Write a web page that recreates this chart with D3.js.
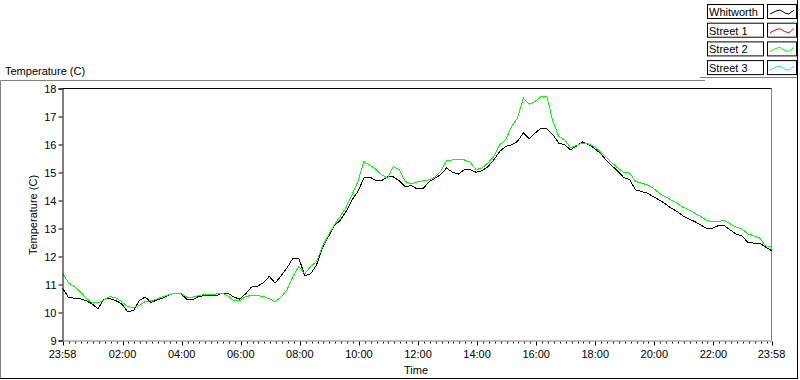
<!DOCTYPE html>
<html>
<head>
<meta charset="utf-8">
<script src="https://cdn.jsdelivr.net/npm/d3@7"></script>
<style>
  body { margin: 0; background: #fff; }
  svg { display: block; font-family: "Liberation Sans", Arial, sans-serif; font-size: 11px; }
</style>
</head>
<body>
<svg id="chart" width="800" height="380"></svg>
<script>
// samples every 12 minutes, starting at 23:58
const startTime = new Date(2010, 0, 1, 23, 58);
const stepMinutes = 12;

const whitworth = [
  10.87, 10.54, 10.51, 10.49, 10.42, 10.31, 10.13, 10.48, 10.49, 10.43,
  10.31, 10.04, 10.06, 10.43, 10.55, 10.36, 10.45, 10.52, 10.63, 10.69,
  10.69, 10.48, 10.45, 10.57, 10.60, 10.60, 10.60, 10.69, 10.69, 10.55,
  10.48, 10.67, 10.91, 10.93, 11.07, 11.29, 11.05, 11.31, 11.59, 11.94,
  11.94, 11.32, 11.38, 11.70, 12.30, 12.71, 13.10, 13.29, 13.61, 14.02,
  14.32, 14.80, 14.84, 14.71, 14.71, 14.84, 14.84, 14.70, 14.50, 14.53,
  14.42, 14.42, 14.66, 14.80, 14.92, 15.16, 15.01, 14.94, 15.10, 15.10,
  15.01, 15.06, 15.21, 15.45, 15.75, 15.93, 15.99, 16.11, 16.41, 16.20,
  16.41, 16.59, 16.56, 16.35, 16.05, 15.99, 15.81, 15.95, 16.09, 16.00,
  15.87, 15.69, 15.45, 15.24, 15.04, 14.82, 14.74, 14.38, 14.32, 14.26,
  14.14, 14.02, 13.88, 13.73, 13.61, 13.45, 13.34, 13.25, 13.13, 13.01,
  13.01, 13.10, 13.10, 12.95, 12.80, 12.74, 12.50, 12.48, 12.48, 12.34,
  12.21
];

const street1 = [];

const street2 = [
  11.41, 11.07, 10.93, 10.75, 10.51, 10.34, 10.34, 10.45, 10.57, 10.53,
  10.39, 10.21, 10.18, 10.25, 10.39, 10.42, 10.48, 10.57, 10.63, 10.69,
  10.69, 10.55, 10.55, 10.60, 10.65, 10.65, 10.66, 10.69, 10.60, 10.42,
  10.42, 10.57, 10.61, 10.60, 10.57, 10.49, 10.39, 10.55, 10.81, 11.29,
  11.64, 11.38, 11.64, 11.82, 12.36, 12.77, 13.13, 13.43, 13.76, 14.20,
  14.68, 15.39, 15.27, 15.12, 14.92, 14.80, 15.21, 15.10, 14.68, 14.59,
  14.66, 14.70, 14.74, 14.82, 15.04, 15.42, 15.45, 15.45, 15.45, 15.37,
  15.10, 15.16, 15.34, 15.57, 15.99, 16.17, 16.64, 16.94, 17.66, 17.44,
  17.54, 17.71, 17.71, 16.82, 16.29, 16.17, 15.89, 15.96, 16.05, 16.02,
  15.93, 15.75, 15.55, 15.34, 15.16, 15.00, 14.98, 14.68, 14.62, 14.56,
  14.44, 14.26, 14.14, 14.02, 13.91, 13.76, 13.67, 13.55, 13.43, 13.29,
  13.25, 13.25, 13.29, 13.17, 13.05, 12.98, 12.81, 12.74, 12.66, 12.38,
  12.36
];

const street3 = [];

const seriesNames = ["Whitworth", "Street 1", "Street 2", "Street 3"];
const seriesColors = ["#000000", "#ff0000", "#00ff00", "#33ccff"];
const seriesValues = [whitworth, street1, street2, street3];

const yTicks = [9, 10, 11, 12, 13, 14, 15, 16, 17, 18];
const xTickLabels = ["23:58", "02:00", "04:00", "06:00", "08:00", "10:00", "12:00",
                     "14:00", "16:00", "18:00", "20:00", "22:00", "23:58"];

const svg = d3.select("#chart");

const endTime = d3.timeMinute.offset(startTime, 24 * 60);
const x = d3.scaleTime().domain([startTime, endTime]).range([62.5, 771.5]);
const y = d3.scaleLinear().domain([9, 18]).range([340.5, 88.5]);

// outer panel (raised/sunken look)
svg.append("line").attr("x1", 0.5).attr("x2", 705).attr("y1", 80.5).attr("y2", 80.5).attr("stroke", "#808080");
svg.append("line").attr("x1", 0.5).attr("x2", 0.5).attr("y1", 80.5).attr("y2", 378).attr("stroke", "#808080");
svg.append("line").attr("x1", 0).attr("x2", 798).attr("y1", 378.5).attr("y2", 378.5).attr("stroke", "#000");
svg.append("line").attr("x1", 797.5).attr("x2", 797.5).attr("y1", 0).attr("y2", 379).attr("stroke", "#000");
svg.append("line").attr("x1", 700).attr("x2", 797).attr("y1", 77.5).attr("y2", 77.5).attr("stroke", "#808080");

// panel title
svg.append("text").attr("x", 5).attr("y", 75).text("Temperature (C)");

// plot area frame: dark top/left, grey right/bottom
svg.append("rect").attr("x", x.range()[0]).attr("y", y.range()[1])
  .attr("width", x.range()[1] - x.range()[0]).attr("height", y.range()[0] - y.range()[1])
  .attr("fill", "#fff");
svg.append("line").attr("x1", x.range()[1]).attr("x2", x.range()[1])
  .attr("y1", y.range()[1]).attr("y2", y.range()[0]).attr("stroke", "#808080");

// series lines
const line = d3.line()
  .x((d, i) => x(d3.timeMinute.offset(startTime, i * stepMinutes)))
  .y(d => y(d));

seriesValues.forEach((vals, i) => {
  if (!vals.length) return;
  svg.append("path")
    .datum(vals)
    .attr("fill", "none")
    .attr("stroke", seriesColors[i])
    .attr("stroke-width", 1)
    .attr("shape-rendering", "crispEdges")
    .attr("d", line);
});

svg.append("line").attr("x1", x.range()[0]).attr("x2", x.range()[1])
  .attr("y1", y.range()[1]).attr("y2", y.range()[1]).attr("stroke", "#000");

// y axis
const yAxis = d3.axisLeft(y).tickValues(yTicks).tickSize(4).tickPadding(2).tickFormat(d3.format("d"));
const gy = svg.append("g").attr("transform", `translate(${x.range()[0]},0)`).call(yAxis);
gy.select(".domain").attr("stroke", "#000");
gy.selectAll("text").attr("font-family", "Liberation Sans, Arial, sans-serif").attr("font-size", 11).attr("fill", "#000");

// x axis: minor ticks every 12 minutes, labelled majors
const majorTimes = xTickLabels.map((lab, i) => {
  if (i === 0) return startTime;
  if (i === xTickLabels.length - 1) return endTime;
  const [h, m] = lab.split(":").map(Number);
  return new Date(2010, 0, 2, h, m);
});

const gx = svg.append("g").attr("transform", `translate(0,${y.range()[0]})`);
const minorTimes = d3.timeMinute.every(12).range(startTime, endTime);
gx.selectAll(".minor").data(minorTimes).join("line")
  .attr("x1", d => Math.round(x(d)) + 0.5).attr("x2", d => Math.round(x(d)) + 0.5)
  .attr("y1", 1).attr("y2", 3).attr("stroke", "#000");
gx.selectAll(".major").data(majorTimes).join("line")
  .attr("x1", d => Math.round(x(d)) + 0.5).attr("x2", d => Math.round(x(d)) + 0.5)
  .attr("y1", 1).attr("y2", 5).attr("stroke", "#000");
gx.append("line").attr("x1", x.range()[0]).attr("x2", x.range()[1] + 0.5)
  .attr("y1", 0.5).attr("y2", 0.5).attr("stroke", "#808080");
gx.selectAll(".lab").data(majorTimes).join("text")
  .attr("x", d => x(d)).attr("y", 17)
  .attr("text-anchor", "middle")
  .text((d, i) => xTickLabels[i]);

// axis titles
svg.append("text").attr("x", 416).attr("y", 374).attr("text-anchor", "middle").text("Time");
svg.append("text").attr("transform", "translate(37,215) rotate(-90)")
  .attr("text-anchor", "middle").text("Temperature (C)");

// legend
const legend = svg.append("g").attr("transform", "translate(707,4)");
seriesNames.forEach((name, i) => {
  const g = legend.append("g").attr("transform", `translate(0,${i * 18.7})`);
  g.append("rect").attr("x", 0.5).attr("y", 0.5).attr("width", 56).attr("height", 14)
    .attr("fill", "#fff").attr("stroke", "#000");
  g.append("text").attr("x", 2).attr("y", 12).text(name);
  g.append("rect").attr("x", 60.5).attr("y", 0.5).attr("width", 29).attr("height", 14)
    .attr("fill", "#fff").attr("stroke", "#000");
  g.append("polyline")
    .attr("points", "63,10 69,7 73,6 78,9 82,10 87,6")
    .attr("fill", "none").attr("stroke", seriesColors[i]);
});
</script>
</body>
</html>
